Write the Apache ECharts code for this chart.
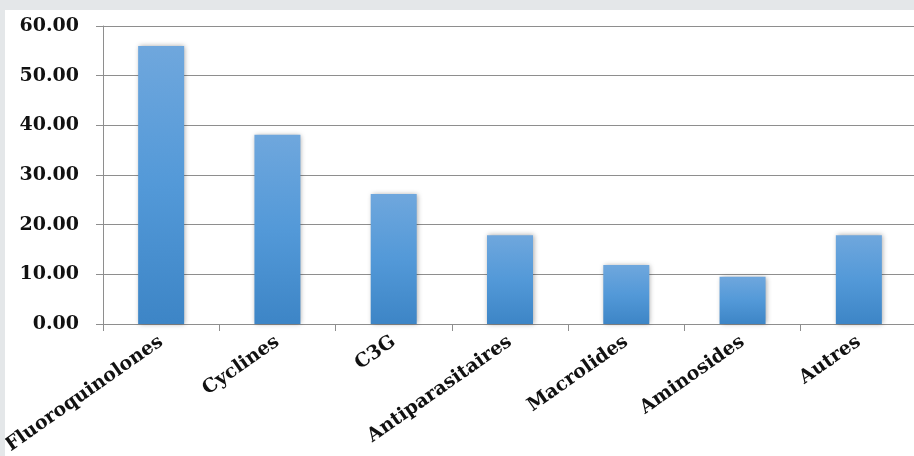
<!DOCTYPE html>
<html>
<head>
<meta charset="utf-8">
<script src="https://cdn.jsdelivr.net/npm/echarts@6/dist/echarts.min.js"></script>
<style>
  html, body { margin: 0; padding: 0; background: #e4e7e9; width: 914px; height: 456px; overflow: hidden; }
  #chart { position: absolute; left: 5px; top: 10px; width: 909px; height: 446px; background: #ffffff; }
</style>
</head>
<body>
<div id="chart"></div>
<script>
// Antibiotic classes and their share (%)
const categories = ['Fluoroquinolones', 'Cyclines', 'C3G', 'Antiparasitaires', 'Macrolides', 'Aminosides', 'Autres'];
const values = [55.95, 38.10, 26.19, 17.86, 11.90, 9.52, 17.86];
const yTicks = [0, 10, 20, 30, 40, 50, 60];

const labelFont = { fontFamily: '"DejaVu Serif", "Liberation Serif", serif', fontWeight: 'bold', color: '#111' };
const axisGray = '#8e8e8e';

const chart = echarts.init(document.getElementById('chart'));
chart.setOption({
  animation: false,
  grid: { left: 98, right: -3, top: 16, bottom: 132, containLabel: false, outerBoundsMode: 'none' },
  xAxis: {
    type: 'category',
    data: categories,
    axisLine: { lineStyle: { color: axisGray, width: 1 } },
    axisTick: { show: true, length: 7, alignWithLabel: false, lineStyle: { color: axisGray } },
    axisLabel: Object.assign({ rotate: 35, fontSize: 19, margin: 16, interval: 0 }, labelFont)
  },
  yAxis: {
    type: 'value',
    min: yTicks[0],
    max: yTicks[yTicks.length - 1],
    interval: 10,
    axisLine: { show: true, lineStyle: { color: axisGray, width: 1 } },
    axisTick: { show: true, length: 7, lineStyle: { color: axisGray } },
    splitLine: { lineStyle: { color: axisGray, width: 1 } },
    axisLabel: Object.assign({ fontSize: 19, margin: 24, formatter: v => v.toFixed(2) }, labelFont)
  },
  series: [{
    type: 'bar',
    data: values,
    barWidth: 46,
    itemStyle: {
      color: new echarts.graphic.LinearGradient(0, 0, 0, 1, [
        { offset: 0, color: '#6fa7dd' },
        { offset: 0.5, color: '#5399d8' },
        { offset: 1, color: '#3d85c6' }
      ]),
      shadowColor: 'rgba(0,0,0,0.35)',
      shadowBlur: 5,
      shadowOffsetX: 1,
      shadowOffsetY: 0
    }
  }]
});
</script>
</body>
</html>
